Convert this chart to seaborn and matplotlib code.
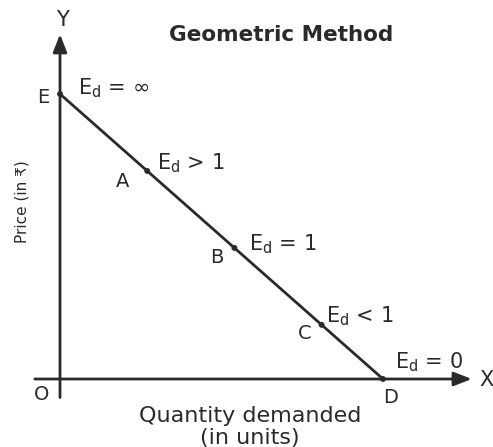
import matplotlib
matplotlib.use("Agg")
import matplotlib.pyplot as plt
import seaborn as sns
import pandas as pd

# Straight-line demand curve and the points marked on it
points = ["E", "A", "B", "C", "D"]
quantity = [0.0, 2.7, 5.4, 8.1, 10.0]
price = [10.0, 7.3, 4.6, 1.9, 0.0]
elasticity = [r"$\mathregular{E_d}$ = ∞", r"$\mathregular{E_d}$ > 1",
              r"$\mathregular{E_d}$ = 1", r"$\mathregular{E_d}$ < 1",
              r"$\mathregular{E_d}$ = 0"]

title = "Geometric Method"
x_label = "Quantity demanded\n(in units)"
y_label = "Price (in ₹)"

df = pd.DataFrame({"point": points, "quantity": quantity, "price": price,
                   "elasticity": elasticity})

sns.set_theme(style="white")
plt.rcParams["font.family"] = ["DejaVu Sans"]
plt.rcParams["mathtext.fontset"] = "dejavusans"

ink = "#2a2a2a"
fig = plt.figure(figsize=(4.93, 4.47), dpi=100)
ax = fig.add_axes([0, 0, 1, 1])
ax.set_xlim(-1.858, 13.406)
ax.set_ylim(-2.386, 13.298)
ax.axis("off")

# axes drawn as arrows from the origin
arrow = dict(arrowstyle="-|>,head_length=0.9,head_width=0.35",
             color=ink, lw=2, shrinkA=0, shrinkB=0)
ax.annotate("", xy=(12.75, 0), xytext=(-0.78, 0), arrowprops=arrow)
ax.annotate("", xy=(0, 12.1), xytext=(0, -0.65), arrowprops=arrow)

# demand line and its marked points
sns.lineplot(data=df, x="quantity", y="price", ax=ax, color=ink, lw=2,
             sort=False, legend=False)
sns.scatterplot(data=df, x="quantity", y="price", ax=ax, color=ink, s=18,
                edgecolor="none", legend=False, zorder=5)

letter_off = [(-17, -4), (-25, -11), (-18, -10), (-17, -9), (8, -19)]
label_off = [(18, 6), (10, 8), (15, 4), (4, 9), (12, 17)]
for row, lo, eo in zip(df.itertuples(), letter_off, label_off):
    ax.annotate(row.point, (row.quantity, row.price), xytext=lo,
                textcoords="offset pixels", ha="center", va="center",
                fontsize=14, color=ink)
    ax.annotate(row.elasticity, (row.quantity, row.price), xytext=eo,
                textcoords="offset pixels", ha="left", va="center",
                fontsize=15, color=ink)

ax.text(0.126, 0.955, "Y", transform=ax.transAxes,
        ha="center", va="center", fontsize=15, color=ink)
ax.text(0.987, 0.150, "X", transform=ax.transAxes,
        ha="center", va="center", fontsize=15, color=ink)
ax.text(0.085, 0.118, "O", transform=ax.transAxes,
        ha="center", va="center", fontsize=14, color=ink)

ax.text(0.570, 0.922, title, transform=ax.transAxes, ha="center",
        va="center", fontsize=15.5, fontweight="bold", color=ink)
ax.text(0.507, 0.044, x_label, transform=ax.transAxes, ha="center",
        va="center", fontsize=16, color=ink, linespacing=1.12)
ax.text(0.045, 0.548, y_label, transform=ax.transAxes, ha="center",
        va="center", fontsize=11, rotation=90, color=ink)

fig.savefig("out.png", dpi=100)
